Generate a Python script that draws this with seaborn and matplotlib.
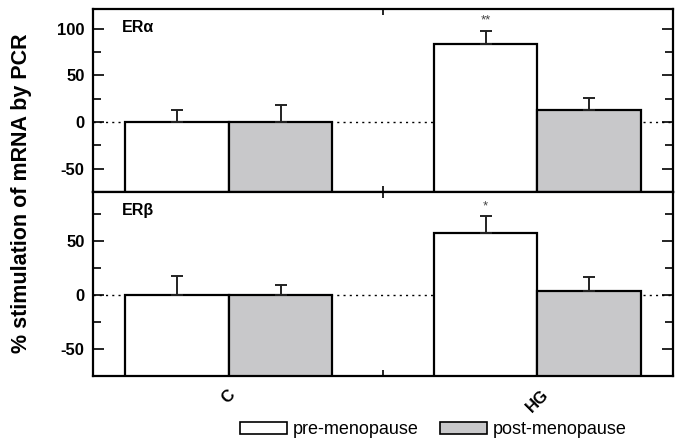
import matplotlib
matplotlib.use('Agg')
import matplotlib.pyplot as plt
import numpy as np
import pandas as pd
import seaborn as sns
from matplotlib.patches import Patch
from matplotlib.ticker import MultipleLocator, FixedLocator

sns.set_style('ticks')
plt.rcParams['font.family'] = ['Liberation Sans', 'DejaVu Sans']
plt.rcParams['axes.unicode_minus'] = False
plt.rcParams['text.color'] = 'black'
plt.rcParams['xtick.color'] = 'black'
plt.rcParams['ytick.color'] = 'black'

# data
treatments = ['C', 'HG']
groups = ['pre-menopause', 'post-menopause']
era_pre = [0, 84]
era_pre_err = [13, 13]
era_post = [0, 13]
era_post_err = [18, 13]
erb_pre = [0, 57]
erb_pre_err = [17, 16]
erb_post = [0, 3.5]
erb_post_err = [9, 13]
panel_labels = ['ER\u03b1', 'ER\u03b2']
stars = ['**', '*']

colors = {'pre-menopause': 'white', 'post-menopause': '#c8c8ca'}
bar_width = 0.67

fig = plt.figure(figsize = (6.77, 4.4), dpi = 100)
ax_top = fig.add_axes([0.1374, 0.5636, 0.857, 0.4159])
ax_bot = fig.add_axes([0.1374, 0.1455, 0.857, 0.4181])

panels = [
    (ax_top, era_pre, era_pre_err, era_post, era_post_err, (-75, 121), 12),
    (ax_bot, erb_pre, erb_pre_err, erb_post, erb_post_err, (-75, 95), 9),
]

for k, (ax, pre, pre_err, post, post_err, ylim, star_off) in enumerate(panels):
    df = pd.DataFrame({
        'Treatment': treatments * 2,
        'Group': [groups[0]] * 2 + [groups[1]] * 2,
        'Value': pre + post,
    })
    sns.barplot(data = df, x = 'Treatment', y = 'Value', hue = 'Group', hue_order = groups,
                palette = colors, width = bar_width, gap = 0, edgecolor = 'black',
                linewidth = 1.6, errorbar = None, legend = False, ax = ax, zorder = 3)
    # the original bars rise from the bottom of the frame, not from zero
    for p in ax.patches:
        top = p.get_y() + p.get_height()
        p.set_y(ylim[0])
        p.set_height(top - ylim[0])
    # upper error bars only
    for j, (vals, errs) in enumerate([(pre, pre_err), (post, post_err)]):
        xs = np.arange(len(treatments)) + (j - 0.5) * bar_width / 2
        ax.errorbar(xs, vals, yerr = [np.zeros(len(vals)), errs], fmt = 'none',
                    ecolor = '#222222', elinewidth = 1.4, capsize = 4, capthick = 1.4, zorder = 4)
    ax.axhline(0, color = 'black', linestyle = (0, (1.5, 3)), linewidth = 1, zorder = 2)
    # significance stars over HG pre-menopause
    x_hg = 1 - bar_width / 4
    ax.text(x_hg, pre[1] + pre_err[1] + star_off, stars[k], ha = 'center', va = 'center',
            fontsize = 9.5, color = '#444444')
    ax.text(0.05, 0.9, panel_labels[k], transform = ax.transAxes, fontsize = 11.5,
            fontweight = 'bold', ha = 'left', va = 'center')
    ax.set_xlim(-0.44, 1.44)
    ax.set_ylim(*ylim)
    ax.yaxis.set_major_locator(FixedLocator([v for v in [-50, 0, 50, 100] if ylim[0] < v < ylim[1]]))
    ax.yaxis.set_minor_locator(MultipleLocator(25))
    ax.xaxis.set_minor_locator(FixedLocator([0.5]))
    ax.tick_params(axis = 'both', which = 'both', direction = 'in', right = True, top = True,
                   width = 1.2)
    ax.tick_params(axis = 'y', which = 'major', length = 8, labelsize = 12, pad = 6)
    ax.tick_params(axis = 'y', which = 'minor', length = 6)
    ax.tick_params(axis = 'x', which = 'major', length = 0)
    ax.tick_params(axis = 'x', which = 'minor', length = 4)
    for lab in ax.get_yticklabels():
        lab.set_fontweight('bold')
    for s in ax.spines.values():
        s.set_linewidth(1.6)
        s.set_color('black')
    ax.set_xlabel('')
    ax.set_ylabel('')

ax_top.set_xticklabels([])
ax_bot.set_xticklabels(treatments, rotation = 45, fontsize = 12, fontweight = 'bold', ha = 'center')
ax_bot.tick_params(axis = 'x', which = 'major', pad = 8)

fig.text(0.032, 0.56, '% stimulation of mRNA by PCR', rotation = 90, ha = 'center', va = 'center',
         fontsize = 15.5, fontweight = 'bold')

handles = [Patch(facecolor = colors[g], edgecolor = 'black', linewidth = 1.2, label = g) for g in groups]
fig.legend(handles = handles, loc = 'center', bbox_to_anchor = (0.64, 0.023), ncol = 2,
           frameon = False, fontsize = 13, handlelength = 2.6, handleheight = 0.7,
           handletextpad = 0.3, columnspacing = 1.2, borderpad = 0)

plt.savefig('out.png', dpi = 100)
